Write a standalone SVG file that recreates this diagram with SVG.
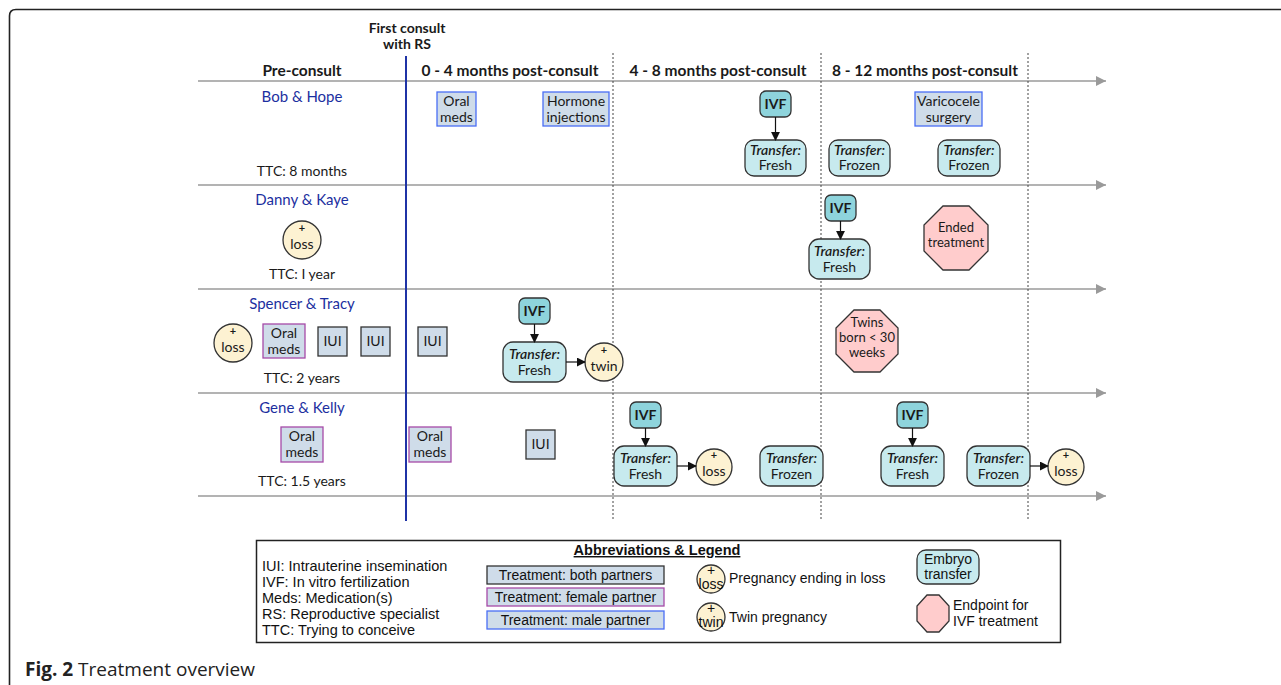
<svg xmlns="http://www.w3.org/2000/svg" width="1281" height="685" viewBox="0 0 1281 685">
<defs>
<style>
.t{font-family:Lato,"Open Sans","Liberation Sans",sans-serif;font-size:14px;fill:#1a1a1a;text-anchor:middle}
.h{font-weight:bold;font-size:15.5px}
.fc{font-weight:bold;font-size:14px}
.nm{fill:#1c2fa0;font-size:15px}
.b{font-weight:bold}
.i{font-style:italic;font-weight:600}
.p{font-weight:bold;font-size:11px}
.o{font-size:13px}
.box{fill:#cfdce9;stroke:#333;stroke-width:1.3}
.fem{stroke:#a64aa8}
.mal{stroke:#4a6ef5}
.ivf{fill:#8ed4dc;stroke:#333;stroke-width:1.3}
.tr{fill:#c7eaee;stroke:#333;stroke-width:1.3}
.cir{fill:#fdf2d2;stroke:#333;stroke-width:1.3}
.oct{fill:#ffcccc;stroke:#333;stroke-width:1.3}
.ax{stroke:#9a9a9a;stroke-width:1.5;fill:none}
.dot{stroke:#444;stroke-width:1;stroke-dasharray:2 2;fill:none}
.con{stroke:#111;stroke-width:1.2;fill:none}
.lg{font-family:"Liberation Sans",Arial,sans-serif;font-size:14px;fill:#111}
.lgl{font-size:14.5px}
</style>
<marker id="ah" viewBox="0 0 10 10" refX="9" refY="5" markerWidth="9" markerHeight="9" markerUnits="userSpaceOnUse" orient="auto"><path d="M0,0 L10,5 L0,10 z" fill="#111"/></marker>
<marker id="ga" viewBox="0 0 10 10" refX="10" refY="5" markerWidth="10" markerHeight="10" markerUnits="userSpaceOnUse" orient="auto"><path d="M0,0 L10,5 L0,10 z" fill="#9a9a9a"/></marker>
</defs>
<rect width="1281" height="685" fill="#fff"/>
<path d="M9.5 685 V16 Q9.5 9.5 16 9.5 H1281" fill="none" stroke="#222" stroke-width="1.6"/>

<g id="grid">
<line class="ax" x1="198" y1="81" x2="1106" y2="81" marker-end="url(#ga)"/>
<line class="ax" x1="198" y1="185" x2="1106" y2="185" marker-end="url(#ga)"/>
<line class="ax" x1="198" y1="289" x2="1106" y2="289" marker-end="url(#ga)"/>
<line class="ax" x1="198" y1="393" x2="1106" y2="393" marker-end="url(#ga)"/>
<line class="ax" x1="198" y1="496" x2="1106" y2="496" marker-end="url(#ga)"/>
<line x1="406" y1="56" x2="406" y2="521" stroke="#1f33a6" stroke-width="2"/>
<line class="dot" x1="613" y1="53" x2="613" y2="521"/>
<line class="dot" x1="821" y1="53" x2="821" y2="521"/>
<line class="dot" x1="1028" y1="53" x2="1028" y2="521"/>
</g>

<g id="headers">
<text class="t fc" x="407" y="33">First consult</text>
<text class="t fc" x="407" y="49">with RS</text>
<text class="t h" x="302" y="76">Pre-consult</text>
<text class="t h" x="510" y="76">0 - 4 months post-consult</text>
<text class="t h" x="718" y="76">4 - 8 months post-consult</text>
<text class="t h" x="925" y="76">8 - 12 months post-consult</text>
</g>

<g id="row-bob">
<text class="t nm" x="302" y="102">Bob &amp; Hope</text>
<text class="t" x="302" y="176">TTC: 8 months</text>
<g id="bob-oral"><rect class="box mal" x="437" y="92" width="39" height="34"/><text class="t" x="456.5" y="106">Oral</text><text class="t" x="456.5" y="122">meds</text></g>
<g id="bob-hormone"><rect class="box mal" x="543" y="92" width="66" height="34"/><text class="t" x="576" y="106">Hormone</text><text class="t" x="576" y="122">injections</text></g>
<g id="bob-ivf"><rect class="ivf" x="760" y="91" width="31" height="26" rx="6"/><text class="t b" x="775.5" y="109">IVF</text></g>
<g id="bob-fresh"><rect class="tr" x="745" y="140" width="61" height="36" rx="9"/><text class="t i" x="775.5" y="155">Transfer:</text><text class="t" x="775.5" y="170">Fresh</text></g>
<g id="bob-frozen1"><rect class="tr" x="829" y="140" width="61" height="36" rx="9"/><text class="t i" x="859.5" y="155">Transfer:</text><text class="t" x="859.5" y="170">Frozen</text></g>
<g id="bob-varicocele"><rect class="box mal" x="915" y="92" width="67" height="34"/><text class="t" x="948.5" y="106">Varicocele</text><text class="t" x="948.5" y="122">surgery</text></g>
<g id="bob-frozen2"><rect class="tr" x="938" y="140" width="62" height="36" rx="9"/><text class="t i" x="969" y="155">Transfer:</text><text class="t" x="969" y="170">Frozen</text></g>
</g>

<g id="row-danny">
<text class="t nm" x="302" y="205">Danny &amp; Kaye</text>
<g id="danny-loss"><circle class="cir" cx="302" cy="240" r="19"/><text class="t p" x="302" y="232">+</text><text class="t" x="302" y="249">loss</text></g>
<text class="t" x="302" y="279">TTC: I year</text>
<g id="danny-ivf"><rect class="ivf" x="825" y="195" width="31" height="26" rx="6"/><text class="t b" x="840.5" y="213">IVF</text></g>
<g id="danny-fresh"><rect class="tr" x="809" y="239" width="61" height="40" rx="10"/><text class="t i" x="839.5" y="256">Transfer:</text><text class="t" x="839.5" y="272">Fresh</text></g>
<g id="danny-ended"><polygon class="oct" points="943,206 969,206 988,225 988,251 969,270 943,270 924,251 924,225"/><text class="t o" x="956" y="232">Ended</text><text class="t o" x="956" y="247">treatment</text></g>
</g>

<g id="row-spencer">
<text class="t nm" x="302" y="309">Spencer &amp; Tracy</text>
<g id="sp-loss"><circle class="cir" cx="233" cy="343" r="19"/><text class="t p" x="233" y="335">+</text><text class="t" x="233" y="352">loss</text></g>
<g id="sp-oral"><rect class="box fem" x="263" y="324" width="42" height="34"/><text class="t" x="284" y="338">Oral</text><text class="t" x="284" y="354">meds</text></g>
<g id="sp-iui1"><rect class="box" x="318" y="327" width="29" height="29"/><text class="t" x="332.5" y="346">IUI</text></g>
<g id="sp-iui2"><rect class="box" x="361" y="327" width="29" height="29"/><text class="t" x="375.5" y="346">IUI</text></g>
<g id="sp-iui3"><rect class="box" x="418" y="327" width="29" height="29"/><text class="t" x="432.5" y="346">IUI</text></g>
<text class="t" x="302" y="383">TTC: 2 years</text>
<g id="sp-ivf"><rect class="ivf" x="519" y="298" width="31" height="26" rx="6"/><text class="t b" x="534.5" y="316">IVF</text></g>
<g id="sp-fresh"><rect class="tr" x="503" y="342" width="63" height="40" rx="10"/><text class="t i" x="534.5" y="359">Transfer:</text><text class="t" x="534.5" y="375">Fresh</text></g>
<g id="sp-twin"><circle class="cir" cx="604" cy="362" r="19"/><text class="t p" x="604" y="354">+</text><text class="t" x="604" y="371">twin</text></g>
<g id="sp-twins-born"><polygon class="oct" points="854,310 880,310 898,328 898,354 880,372 854,372 836,354 836,328"/><text class="t o" x="867" y="327">Twins</text><text class="t o" x="867" y="342">born &lt; 30</text><text class="t o" x="867" y="357">weeks</text></g>
</g>

<g id="row-gene">
<text class="t nm" x="302" y="413">Gene &amp; Kelly</text>
<g id="g-oral1"><rect class="box fem" x="281" y="427" width="42" height="35"/><text class="t" x="302" y="441">Oral</text><text class="t" x="302" y="457">meds</text></g>
<text class="t" x="302" y="486">TTC: 1.5 years</text>
<g id="g-oral2"><rect class="box fem" x="409" y="427" width="42" height="35"/><text class="t" x="430" y="441">Oral</text><text class="t" x="430" y="457">meds</text></g>
<g id="g-iui"><rect class="box" x="526" y="430" width="29" height="29"/><text class="t" x="540.5" y="449">IUI</text></g>
<g id="g-ivf1"><rect class="ivf" x="630" y="402" width="31" height="26" rx="6"/><text class="t b" x="645.5" y="420">IVF</text></g>
<g id="g-fresh1"><rect class="tr" x="614" y="446" width="63" height="40" rx="10"/><text class="t i" x="645.5" y="463">Transfer:</text><text class="t" x="645.5" y="479">Fresh</text></g>
<g id="g-loss1"><circle class="cir" cx="714" cy="467" r="18"/><text class="t p" x="714" y="459">+</text><text class="t" x="714" y="476">loss</text></g>
<g id="g-frozen1"><rect class="tr" x="760" y="446" width="63" height="40" rx="10"/><text class="t i" x="791.5" y="463">Transfer:</text><text class="t" x="791.5" y="479">Frozen</text></g>
<g id="g-ivf2"><rect class="ivf" x="897" y="402" width="31" height="26" rx="6"/><text class="t b" x="912.5" y="420">IVF</text></g>
<g id="g-fresh2"><rect class="tr" x="881" y="446" width="63" height="40" rx="10"/><text class="t i" x="912.5" y="463">Transfer:</text><text class="t" x="912.5" y="479">Fresh</text></g>
<g id="g-frozen2"><rect class="tr" x="967" y="446" width="63" height="40" rx="10"/><text class="t i" x="998.5" y="463">Transfer:</text><text class="t" x="998.5" y="479">Frozen</text></g>
<g id="g-loss2"><circle class="cir" cx="1066" cy="467" r="18"/><text class="t p" x="1066" y="459">+</text><text class="t" x="1066" y="476">loss</text></g>
</g>

<g id="connectors">
<line class="con" x1="775.5" y1="117" x2="775.5" y2="140" marker-end="url(#ah)"/>
<line class="con" x1="840.5" y1="221" x2="840.5" y2="239" marker-end="url(#ah)"/>
<line class="con" x1="534.5" y1="324" x2="534.5" y2="342" marker-end="url(#ah)"/>
<line class="con" x1="566" y1="362" x2="585" y2="362" marker-end="url(#ah)"/>
<line class="con" x1="645.5" y1="428" x2="645.5" y2="446" marker-end="url(#ah)"/>
<line class="con" x1="677" y1="466" x2="696" y2="466" marker-end="url(#ah)"/>
<line class="con" x1="912.5" y1="428" x2="912.5" y2="446" marker-end="url(#ah)"/>
<line class="con" x1="1030" y1="466" x2="1048" y2="466" marker-end="url(#ah)"/>
</g>

<g id="legend">
<rect x="256.5" y="540.5" width="804" height="102" fill="#fff" stroke="#222" stroke-width="1.5"/>
<text class="lg lgl" x="657" y="555" text-anchor="middle" font-weight="bold" text-decoration="underline">Abbreviations &amp; Legend</text>
<text class="lg lgl" x="262" y="571">IUI: Intrauterine insemination</text>
<text class="lg lgl" x="262" y="587">IVF: In vitro fertilization</text>
<text class="lg lgl" x="262" y="603">Meds: Medication(s)</text>
<text class="lg lgl" x="262" y="619">RS: Reproductive specialist</text>
<text class="lg lgl" x="262" y="635">TTC: Trying to conceive</text>
<g id="lg-both"><rect class="box" x="487" y="566" width="177" height="18"/><text class="lg" x="575.5" y="580" text-anchor="middle">Treatment: both partners</text></g>
<g id="lg-fem"><rect class="box fem" x="487" y="588" width="177" height="18"/><text class="lg" x="575.5" y="602" text-anchor="middle">Treatment: female partner</text></g>
<g id="lg-male"><rect class="box mal" x="487" y="611" width="177" height="18"/><text class="lg" x="575.5" y="625" text-anchor="middle">Treatment: male partner</text></g>
<g id="lg-loss"><circle class="cir" cx="711" cy="579" r="14"/><text class="lg" x="711" y="575" text-anchor="middle" font-size="10">+</text><text class="lg" x="711" y="589" text-anchor="middle" font-size="12">loss</text><text class="lg" x="729" y="583">Pregnancy ending in loss</text></g>
<g id="lg-twin"><circle class="cir" cx="711" cy="617" r="14"/><text class="lg" x="711" y="613" text-anchor="middle" font-size="10">+</text><text class="lg" x="711" y="627" text-anchor="middle" font-size="12">twin</text><text class="lg" x="729" y="622">Twin pregnancy</text></g>
<g id="lg-transfer"><rect class="tr" x="917" y="550" width="62" height="34" rx="9"/><text class="lg" x="948" y="564" text-anchor="middle">Embryo</text><text class="lg" x="948" y="579" text-anchor="middle">transfer</text></g>
<g id="lg-end"><polygon class="oct" points="927,595 939,595 949,606 949,621 939,632 927,632 917,621 917,606"/><text class="lg" x="953" y="610">Endpoint for</text><text class="lg" x="953" y="626">IVF treatment</text></g>
</g>

<g id="caption">
<text x="25" y="676" font-family="'Open Sans','Liberation Sans',sans-serif" font-size="19" fill="#222"><tspan font-weight="bold">Fig. 2</tspan> Treatment overview</text>
</g>
</svg>
